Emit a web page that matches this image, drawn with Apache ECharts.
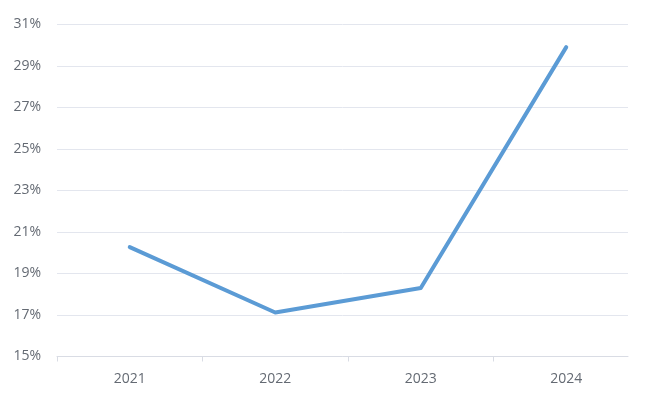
<!DOCTYPE html>
<html>
<head>
<meta charset="utf-8">
<script src="https://cdn.jsdelivr.net/npm/echarts@6/dist/echarts.min.js"></script>
<style>
html,body{margin:0;padding:0;background:#fff;}
#c{width:645px;height:393px;}
</style>
</head>
<body>
<div id="c"></div>
<script>
var categories = ['2021', '2022', '2023', '2024'];
var values = [20.27, 17.12, 18.3, 29.91];
var yTicks = [15, 17, 19, 21, 23, 25, 27, 29, 31];

var labelFont = {color: '#646a73', fontSize: 14, fontFamily: 'Open Sans'};
var chart = echarts.init(document.getElementById('c'), null, {renderer: 'canvas'});
chart.setOption({
  animation: false,
  grid: [
    {left: 57, right: 17, top: 24.5, bottom: 36.5},
    {left: 57, right: 6, top: 24.5, bottom: 36.5},
    {left: 57, right: 151.5, top: 24.5, bottom: 36.5}
  ],
  xAxis: [{
    gridIndex: 0,
    type: 'value',
    min: 0, max: 1,
    axisLine: {show: true, lineStyle: {color: '#d9dce4', width: 1}},
    axisTick: {show: false},
    axisLabel: {show: false},
    splitLine: {show: false}
  }, {
    gridIndex: 1,
    type: 'category',
    data: categories,
    boundaryGap: true,
    axisLine: {show: false},
    axisTick: {show: false},
    axisLabel: Object.assign({margin: 16}, labelFont)
  }, {
    gridIndex: 2,
    type: 'category',
    data: categories.slice(0, 3),
    boundaryGap: true,
    axisLine: {show: false},
    axisTick: {show: true, length: 5, lineStyle: {color: '#d9dce4'}},
    axisLabel: {show: false}
  }],
  yAxis: [{
    gridIndex: 0,
    type: 'value',
    min: yTicks[0],
    max: yTicks[yTicks.length - 1],
    interval: 2,
    axisLine: {show: false},
    axisTick: {show: false},
    splitLine: {lineStyle: {color: '#e3e6ee', width: 1}},
    axisLabel: Object.assign({margin: 16, formatter: function (v) { return v + '%'; }}, labelFont)
  }, {
    gridIndex: 1,
    type: 'value',
    min: yTicks[0],
    max: yTicks[yTicks.length - 1],
    interval: 2,
    show: false
  }, {
    gridIndex: 2,
    type: 'value',
    min: yTicks[0],
    max: yTicks[yTicks.length - 1],
    interval: 2,
    show: false
  }],
  series: [{
    type: 'line',
    xAxisIndex: 1,
    yAxisIndex: 1,
    data: values,
    symbol: 'none',
    lineStyle: {color: '#5b9bd5', width: 4, cap: 'round', join: 'round'}
  }]
});
</script>
</body>
</html>
